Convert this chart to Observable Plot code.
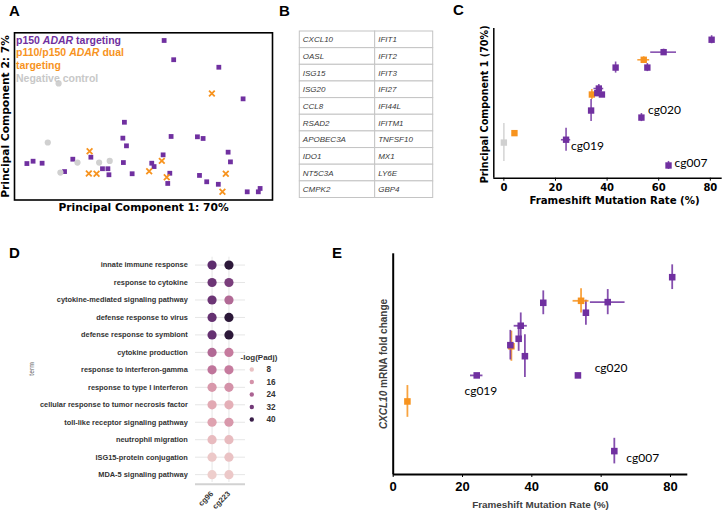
<!DOCTYPE html>
<html><head><meta charset="utf-8">
<script src="https://cdn.jsdelivr.net/npm/d3@7"></script>
<script src="https://cdn.jsdelivr.net/npm/@observablehq/plot@0.6"></script>
<style>
body{margin:0;background:#fff;}
#fig{position:relative;width:723px;height:512px;overflow:hidden;background:#fff;font-family:"Liberation Sans",Arial,sans-serif;}
#fig svg{position:absolute;}
.letter{position:absolute;font-weight:bold;font-size:15px;line-height:15px;color:#000;}
.ov{position:absolute;white-space:nowrap;}
</style></head><body><div id="fig"></div>
<script>
// ---------- Panel A: PCA ----------
const pcaPurpleX = [58.0,61.7,79.2,88.6,42.6,42.0,43.4,60.7,70.9,73.1,82.8,83.7,57.6,53.2,54.1,60.2,59.4,71.7,74.5,79.0,90.2,94.5,95.2,4.8,7.2,10.7,22.6,29.6,34.1,36.2,36.6,42.2,45.6,19.4];
const pcaPurpleY = [95.4,83.9,79.4,60.5,46.5,37.0,32.4,38.0,37.8,36.8,28.6,22.8,27.0,22.0,20.0,16.0,9.9,14.7,10.9,9.4,4.9,4.9,6.9,21.8,23.2,22.0,24.4,25.6,18.7,18.7,15.1,22.4,15.7,17.0];
const pcaOrangeX = [76.5,29.1,28.8,31.8,57.1,52.2,59.0,81.9,80.6];
const pcaOrangeY = [63.7,29.2,15.8,15.7,23.4,17.2,13.6,15.7,4.9];
const pcaGrayX = [17.1,12.9,24.4,32.8,36.9,17.8];
const pcaGrayY = [69.7,34.4,22.4,22.4,23.4,16.4];

// ---------- Panel B: gene table ----------
const geneCol1 = ["CXCL10","OASL","ISG15","ISG20","CCL8","RSAD2","APOBEC3A","IDO1","NT5C3A","CMPK2"];
const geneCol2 = ["IFIT1","IFIT2","IFIT3","IFI27","IFI44L","IFITM1","TNFSF10","MX1","LY6E","GBP4"];

// ---------- Panels C & E: guides ----------
const guideGroup = ["p150","p150","p150","p150","p150","p150","p150","p150","p150","p150","p150","dual","dual","dual","neg"];
const guideLabel = ["","","","","","","","","cg020","cg019","cg007","","","",""];
const fsRate    = [80.5,61.9,43.3,55.6,36.8,36.2,38.0,33.8,53.3,24.1,63.8,54.2,34.1,4.1,0];
const fsRateErr = [0,5.0,0,0,1.9,0,0,0,0,1.8,0,2.3,0,0,0];
const pc1       = [92.5,84.2,73.9,73.9,59.9,56.8,55.9,45.2,40.5,25.7,8.5,79.1,55.9,30.1,23.8];
const pc1Err    = [2.7,2.0,3.7,2.7,2.7,1.3,1.3,7.3,2.7,7.7,2.7,2.0,3.3,0,12.7];
const cxcl10    = [89.4,78.1,77.8,73.3,67.4,61.5,53.6,58.6,44.9,44.9,10.6,78.7,58.1,33.1,null];
const cxcl10Err = [5.6,5.7,5.4,5.7,5.8,5.7,9.7,6.7,0,0,5.8,5.5,6.8,7.2,null];
const rateTicks = [0,20,40,60,80];

// ---------- Panel D: GO terms ----------
const terms = ["innate immune response","response to cytokine","cytokine-mediated signaling pathway","defense response to virus","defense response to symbiont","cytokine production","response to interferon-gamma","response to type I interferon","cellular response to tumor necrosis factor","toll-like receptor signaling pathway","neutrophil migration","ISG15-protein conjugation","MDA-5 signaling pathway"];
const samples = ["cg96","cg223"];
const cg96  = [35,33,33,34,34,23,21,15,12,13,9,7,6];
const cg223 = [42,31,23,42,42,20,20,16,11,15,9,8,7];
const legendTicks = [8,16,24,32,40];

// ---------- styling ----------
const PURPLE = "#7030a0", ORANGE = "#f7931e", GRAY = "#d0d0d0";
const groupColor = {type:"ordinal", domain:["p150","dual","neg"], range:[PURPLE, ORANGE, GRAY]};
const dColor = {type:"linear", domain:[5,12,20,28,36,42], range:["#f0d4d0","#e2a9b3","#c67b9e","#8f4a86","#57296a","#2c1839"]};
const fig = document.getElementById("fig");
function place(svg, left, top){ svg.style.left = left+"px"; svg.style.top = top+"px"; fig.appendChild(svg); }
const LBL = {textAnchor:"middle", lineAnchor:"middle"};

// ===== Panel A =====
const ptsA = (xs, ys) => xs.map((x,i)=>({x, y: ys[i]}));
const plotA = Plot.plot({
  width:280, height:215, marginLeft:14, marginRight:8, marginTop:32.3, marginBottom:15.5,
  x:{domain:[0,100], axis:null}, y:{domain:[0,100], axis:null},
  style:{background:"transparent", fontFamily:"DejaVu Sans"},
  marks:[
    Plot.dot(ptsA(pcaPurpleX,pcaPurpleY), {x:"x", y:"y", symbol:"square", r:2.7, fill:PURPLE}),
    Plot.dot(ptsA(pcaOrangeX,pcaOrangeY), {x:"x", y:"y", symbol:"times", r:2.7, stroke:ORANGE, strokeWidth:1.8}),
    Plot.dot(ptsA(pcaGrayX,pcaGrayY), {x:"x", y:"y", r:3.1, fill:GRAY}),
    Plot.frame({stroke:"#000", strokeWidth:1.6}),
    Plot.text(["Principal Component 1: 70%"], {...LBL, frameAnchor:"bottom", dy:7.6, fontWeight:"bold", fontSize:10.7, fill:"#000"}),
    Plot.text(["Principal Component 2: 7%"], {...LBL, frameAnchor:"left", dx:-9, rotate:-90, fontWeight:"bold", fontSize:10.7, fill:"#000"})
  ]
});
place(plotA, 0, 0);

// ===== Panel B =====
const colEdges = [0, 0.565, 1];
const tableRows = geneCol1.flatMap((g,i)=>[{row:i,col:0,gene:g},{row:i,col:1,gene:geneCol2[i]}]);
const plotB = Plot.plot({
  width:145, height:180, marginLeft:4.3, marginRight:7.3, marginTop:6, marginBottom:7.5,
  x:{domain:[0,1], axis:null}, y:{type:"band", domain:d3.range(geneCol1.length), padding:0, round:false, axis:null},
  style:{background:"transparent", fontFamily:"Liberation Sans"},
  marks:[
    Plot.barX(tableRows, {x1:d=>colEdges[d.col], x2:d=>colEdges[d.col+1], y:"row", fill:"#fff", stroke:"#c4c4c4", strokeWidth:1, inset:0}),
    Plot.text(tableRows, {x:d=>colEdges[d.col], y:"row", text:"gene", textAnchor:"start", dx:3, fontStyle:"italic", fontSize:8, fill:"#3a3a3a"})
  ]
});
place(plotB, 295, 25);

// ===== Panels C & E =====
const guides = fsRate.map((r,i)=>({rate:r, rateErr:fsRateErr[i], pc1:pc1[i], pc1Err:pc1Err[i], cx:cxcl10[i], cxErr:cxcl10Err[i], group:guideGroup[i], label:guideLabel[i]}));
const order = ["neg","dual","p150"];
const sorted = [...guides].sort((a,b)=>order.indexOf(a.group)-order.indexOf(b.group));

const cXDomain = [-3.9, 84.6];
const lblC = {cg020:[6.7,-7], cg019:[5,6.4], cg007:[6,-2.7]};
const plotC = Plot.plot({
  width:273, height:210, marginLeft:43.3, marginRight:1.3, marginTop:28, marginBottom:32.3,
  x:{domain:cXDomain, axis:null}, y:{domain:[0,100], axis:null}, color:groupColor,
  style:{background:"transparent", fontFamily:"DejaVu Sans"},
  marks:[
    Plot.ruleX(sorted.filter(d=>d.pc1Err>0), {x:"rate", y1:d=>d.pc1-d.pc1Err, y2:d=>d.pc1+d.pc1Err, stroke:"group", strokeWidth:1.6, strokeOpacity:0.85}),
    Plot.ruleY(sorted.filter(d=>d.rateErr>0), {y:"pc1", x1:d=>d.rate-d.rateErr, x2:d=>d.rate+d.rateErr, stroke:"group", strokeWidth:1.6, strokeOpacity:0.85}),
    Plot.dot(sorted, {x:"rate", y:"pc1", symbol:"square", r:3.6, fill:"group"}),
    Plot.ruleX([cXDomain[0]], {stroke:"#000", strokeWidth:1.5}),
    Plot.ruleY([0], {stroke:"#000", strokeWidth:1.5}),
    Plot.axisX({ticks:rateTicks, tickSize:3, tickPadding:2.5, fontSize:10, fontWeight:"bold", fill:"#000", label:null}),
    ...Object.entries(lblC).map(([k,[dx,dy]])=>Plot.text(guides.filter(d=>d.label===k), {x:"rate", y:"pc1", text:"label", textAnchor:"start", dx, dy, fontFamily:"Lato", fontSize:12, fill:"#000"})),
    Plot.text(["Frameshift Mutation Rate (%)"], {...LBL, frameAnchor:"bottom", dx:6.5, dy:22.3, fontWeight:"bold", fontSize:10.2, fill:"#000"}),
    Plot.text(["Principal Component 1 (70%)"], {...LBL, frameAnchor:"left", dx:-9.3, dy:1, rotate:-90, fontWeight:"bold", fontSize:9.6, fill:"#000"})
  ]
});
place(plotC, 450, 0);

const guidesE = sorted.filter(d=>d.cx != null);
const lblE = {cg020:[16.7,-7.7], cg019:[-12.3,15.7], cg007:[12,7]};
const plotE = Plot.plot({
  width:393, height:297, marginLeft:62.7, marginRight:35.7, marginTop:38.3, marginBottom:38,
  x:{domain:[0,85], axis:null}, y:{domain:[0,100], axis:null}, color:groupColor,
  style:{background:"transparent", fontFamily:"Liberation Sans"},
  marks:[
    Plot.ruleX(guidesE.filter(d=>d.cxErr>0), {x:"rate", y1:d=>d.cx-d.cxErr, y2:d=>d.cx+d.cxErr, stroke:"group", strokeWidth:1.8, strokeOpacity:0.85}),
    Plot.ruleY(guidesE.filter(d=>d.rateErr>0), {y:"cx", x1:d=>d.rate-d.rateErr, x2:d=>d.rate+d.rateErr, stroke:"group", strokeWidth:1.8, strokeOpacity:0.85}),
    Plot.dot(guidesE, {x:"rate", y:"cx", symbol:"square", r:3.7, fill:"group"}),
    Plot.ruleX([0], {stroke:"#000", strokeWidth:2}),
    Plot.ruleY([0], {stroke:"#000", strokeWidth:2}),
    Plot.axisX({ticks:rateTicks, tickSize:3, tickPadding:4.5, fontSize:13, fontWeight:"bold", fill:"#000", label:null}),
    ...Object.entries(lblE).map(([k,[dx,dy]])=>Plot.text(guidesE.filter(d=>d.label===k), {x:"rate", y:"cx", text:"label", textAnchor:"start", dx, dy, fontFamily:"Lato", fontSize:12, fill:"#000"})),
    Plot.text(["Frameshift Mutation Rate (%)"], {...LBL, frameAnchor:"bottom", dy:30.3, fontWeight:"bold", fontSize:9.9, fill:"#404040"})
  ]
});
place(plotE, 330, 215);

// ===== Panel D =====
const dData = terms.flatMap((t,i)=>[{term:t, sample:"cg96", v:cg96[i]},{term:t, sample:"cg223", v:cg223[i]}]);
const plotD = Plot.plot({
  width:330, height:297, marginLeft:195, marginRight:85, marginTop:41.7, marginBottom:30,
  x:{type:"point", domain:samples, padding:0.98, round:false, axis:null},
  y:{type:"point", domain:terms, padding:0.45, round:false, axis:null},
  color:dColor,
  style:{background:"transparent", fontFamily:"Liberation Sans"},
  marks:[
    Plot.gridX({stroke:"#e6e6e6", strokeOpacity:1, strokeWidth:1}),
    Plot.gridY({stroke:"#e6e6e6", strokeOpacity:1, strokeWidth:1}),
    Plot.ruleY([terms[terms.length-1]], {dy:9.6, stroke:"#d2d2d2", strokeWidth:2}),
    Plot.dot(dData, {x:"sample", y:"term", fill:"v", r:4.6}),
    Plot.axisY({tickSize:0, tickPadding:7.7, fontSize:7.4, fontWeight:"bold", fill:"#333", label:null}),
    Plot.axisX({tickSize:0, tickPadding:10, tickRotate:-45, fontSize:7.6, fontWeight:"bold", fill:"#333", label:null}),
    Plot.text(["term"], {...LBL, frameAnchor:"left", dx:-163.3, dy:-1, rotate:-90, fontSize:6.8, fill:"#666"})
  ]
});
place(plotD, 0, 215);

const plotLeg = Plot.plot({
  width:60, height:80, marginLeft:0, marginRight:0, marginTop:19, marginBottom:11,
  x:{domain:[0,1], axis:null}, y:{type:"point", domain:legendTicks, padding:0, round:false, axis:null},
  color:dColor,
  style:{background:"transparent", fontFamily:"Liberation Sans"},
  marks:[
    Plot.dot(legendTicks, {y:d=>d, fill:d=>d, frameAnchor:"left", dx:15.3, r:2.2}),
    Plot.text(legendTicks, {y:d=>d, text:d=>String(d), frameAnchor:"left", dx:30, textAnchor:"start", lineAnchor:"middle", fontWeight:"bold", fontSize:8.2, fill:"#333"}),
    Plot.text(["-log(Padj)"], {frameAnchor:"top-left", dx:4, dy:-12.3, textAnchor:"start", lineAnchor:"middle", fontWeight:"bold", fontSize:8, fill:"#333"})
  ]
});
place(plotLeg, 236, 350);

// ===== HTML overlays: panel letters, mixed-style labels =====
function ov(html, css){ const d=document.createElement("div"); d.className="ov"; d.innerHTML=html; Object.assign(d.style, css); fig.appendChild(d); return d; }
[["A",9,3],["B",279,3],["C",453,2],["D",9,245],["E",332,245]].forEach(([t,l,tp])=>{
  const d=document.createElement("div"); d.className="letter"; d.textContent=t; d.style.left=l+"px"; d.style.top=tp+"px"; fig.appendChild(d);
});
ov(`<span style="color:${PURPLE}">p150 <i>ADAR</i> targeting</span><br><span style="color:${ORANGE}">p110/p150 <i>ADAR</i> dual<br>targeting</span><br><span style="color:#c8c8c8">Negative control</span>`,
  {left:"16px", top:"33.8px", fontWeight:"bold", fontSize:"10.5px", lineHeight:"12.6px", fontFamily:"Liberation Sans"});
ov(`<i>CXCL10</i> mRNA fold change`,
  {left:"384px", top:"364px", transform:"translate(-50%,-50%) rotate(-90deg)", fontWeight:"bold", fontSize:"10px", lineHeight:"12px", color:"#404040"});
</script></body></html>
